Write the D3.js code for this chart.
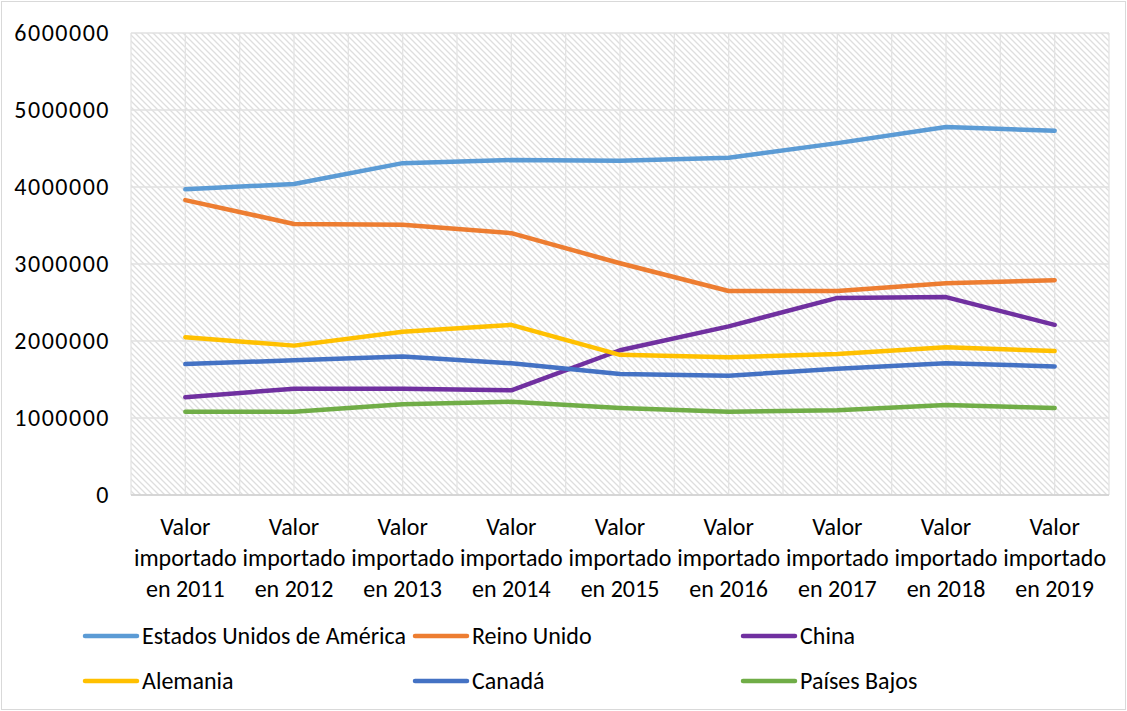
<!DOCTYPE html>
<html><head><meta charset="utf-8">
<script src="https://cdn.jsdelivr.net/npm/d3@7"></script>
<style>
html,body{margin:0;padding:0;background:#fff;}
svg{display:block;font-family:Calibri,Carlito,Lato,sans-serif;}
</style></head>
<body><svg id="c" width="1127" height="711"></svg>
<script>
const categories = ["Valor importado en 2011","Valor importado en 2012","Valor importado en 2013","Valor importado en 2014","Valor importado en 2015","Valor importado en 2016","Valor importado en 2017","Valor importado en 2018","Valor importado en 2019"];
const yTicks = [0,1000000,2000000,3000000,4000000,5000000,6000000];
const seriesNames = ["Estados Unidos de América","Reino Unido","China","Alemania","Canadá","Países Bajos"];
const seriesColors = ["#5B9BD5","#ED7D31","#7030A0","#FFC000","#4472C4","#70AD47"];
const usa = [3970000,4040000,4310000,4350000,4340000,4380000,4570000,4780000,4730000];
const uk = [3830000,3520000,3510000,3400000,3010000,2650000,2650000,2750000,2790000];
const china = [1270000,1380000,1380000,1360000,1880000,2190000,2560000,2570000,2210000];
const germany = [2050000,1940000,2120000,2210000,1820000,1790000,1830000,1920000,1870000];
const canada = [1700000,1750000,1800000,1710000,1570000,1550000,1640000,1710000,1670000];
const netherlands = [1080000,1080000,1180000,1210000,1130000,1080000,1100000,1170000,1130000];
const seriesValues = [usa, uk, china, germany, canada, netherlands];

const svg = d3.select("#c");
const W = 1127, H = 711;
const m = {left:131, right:1109, top:33, bottom:495};

svg.append("rect").attr("x",1.5).attr("y",1.5).attr("width",W-3).attr("height",H-3)
  .attr("fill","#fff").attr("stroke","#d9d9d9").attr("stroke-width",1);

const defs = svg.append("defs");
const pat = defs.append("pattern").attr("id","hatch").attr("patternUnits","userSpaceOnUse")
  .attr("width",6).attr("height",6);
pat.append("rect").attr("width",6).attr("height",6).attr("fill","#fff");
pat.append("path").attr("d","M-1,-1L7,7M-1,5L1,7M5,-1L7,1").attr("stroke","#dedede").attr("stroke-width",1.3);

const x = d3.scaleBand().domain(categories).range([m.left,m.right]).paddingInner(0).paddingOuter(0);
const y = d3.scaleLinear().domain([0,6000000]).range([m.bottom,m.top]);

svg.append("rect").attr("x",m.left).attr("y",m.top).attr("width",m.right-m.left).attr("height",m.bottom-m.top)
  .attr("fill","url(#hatch)");

// vertical gridlines at every half category
const g = svg.append("g");
const half = x.bandwidth()/2;
const vx = [];
for (let i=0;i<=categories.length*2;i++) vx.push(m.left + i*half);
g.selectAll("line.v").data(vx).enter().append("line")
  .attr("x1",d=>d).attr("x2",d=>d).attr("y1",m.top).attr("y2",m.bottom)
  .attr("stroke","#e3e3e3").attr("stroke-width",1.3);
g.selectAll("line.h").data(yTicks).enter().append("line")
  .attr("x1",m.left).attr("x2",m.right).attr("y1",d=>y(d)).attr("y2",d=>y(d))
  .attr("stroke","#e0e0e0").attr("stroke-width",1.3);
svg.append("line").attr("x1",m.left).attr("x2",m.right).attr("y1",y(0)).attr("y2",y(0))
  .attr("stroke","#d0d0d0").attr("stroke-width",1.3);

// y axis labels
const yAxis = d3.axisLeft(y).tickValues(yTicks).tickFormat(d3.format("d")).tickSize(0).tickPadding(21);
const ya = svg.append("g").attr("transform",`translate(${m.left},0)`).call(yAxis);
ya.select(".domain").remove();
ya.selectAll("text").attr("font-size",24).attr("letter-spacing",1.5).attr("fill","#000")
  .attr("font-family","Calibri,Carlito,Lato,sans-serif");

// x axis labels (3 lines)
const xa = svg.append("g");
categories.forEach(c=>{
  const parts = ["Valor","importado",c.replace("Valor importado ","")];
  const t = xa.append("text").attr("text-anchor","middle").attr("font-size",24).attr("fill","#000");
  parts.forEach((p,i)=>{
    t.append("tspan").attr("x",x(c)+half).attr("y",535+i*31).text(p);
  });
});

// lines
const line = d3.line().x((d,i)=>x(categories[i])+half).y(d=>y(d));
seriesValues.forEach((vals,k)=>{
  svg.append("path").datum(vals).attr("d",line).attr("fill","none")
    .attr("stroke",seriesColors[k]).attr("stroke-width",4.5)
    .attr("stroke-linejoin","round").attr("stroke-linecap","round");
});

// legend
const lx = [85,415,743], ly = [636,681];
seriesNames.forEach((n,k)=>{
  const cx = lx[k%3], cy = ly[Math.floor(k/3)];
  svg.append("line").attr("x1",cx).attr("x2",cx+52).attr("y1",cy).attr("y2",cy)
    .attr("stroke",seriesColors[k]).attr("stroke-width",4.5).attr("stroke-linecap","round");
  svg.append("text").attr("x",cx+57).attr("y",cy+8).attr("font-size",24).attr("fill","#000").text(n);
});
</script></body></html>
